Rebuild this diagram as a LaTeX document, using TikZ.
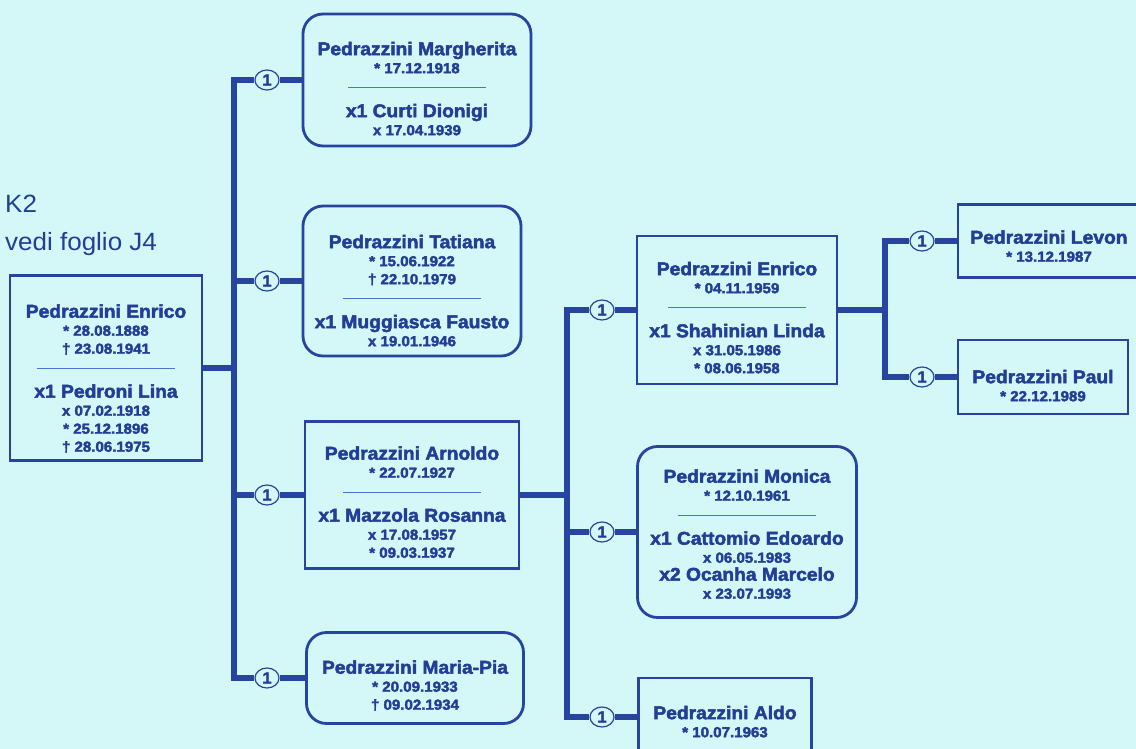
\documentclass[tikz,border=0pt]{standalone}
\usepackage{fontspec}
\setmainfont{Liberation Sans}[FakeStretch=1.04, BoldFeatures={FakeBold=2.5}]
\usetikzlibrary{shapes.geometric}
\definecolor{bgcol}{RGB}{212,248,248}
\definecolor{linecol}{RGB}{38,68,160}
\definecolor{txtcol}{RGB}{34,62,150}
\definecolor{sepcol}{RGB}{72,118,205}
\newcommand{\pname}[1]{{\fontsize{18.5}{18}\selectfont #1}}
\newcommand{\sepline}{\textcolor{sepcol}{\rule[3pt]{138pt}{1.2pt}}}
\begin{document}
\begin{tikzpicture}[x=1pt, y=-1pt,
    person/.style={draw=linecol, line width=2.8pt, fill=bgcol, inner sep=0pt},
    roundperson/.style={person, rounded corners=20pt},
    info/.style={anchor=north, align=center, inner sep=0pt, text=txtcol,
      font=\fontsize{14.5}{18}\selectfont\bfseries},
    branch/.style={draw=linecol, line width=5.5pt},
    gen/.style={ellipse, draw=linecol, line width=1.2pt, fill=bgcol,
      minimum width=24pt, minimum height=20pt, inner sep=0pt, text=txtcol,
      font=\fontsize{16}{16}\selectfont\bfseries}]
  \useasboundingbox (0,0) rectangle (1136,749);
  \clip (0,0) rectangle (1136,749);
  \fill[bgcol] (0,0) rectangle (1136,749);

  % sheet reference
  \node[anchor=base west, inner sep=0pt, text=txtcol, font=\fontsize{25}{28}\selectfont] (k2) at (5,213) {K2};
  \node[anchor=base west, inner sep=0pt, text=txtcol, font=\fontsize{25}{28}\selectfont] (sheet) at (5,250) {vedi foglio J4};

  % first generation
  \node[person, minimum width=192pt, minimum height=185pt] (enrico) at (106,368) {};
  \node[info] (enrico-t) at ([yshift=-30pt]enrico.north)
    {\pname{Pedrazzini Enrico}\\{*} 28.08.1888\\† 23.08.1941\\\sepline\\[8pt]
     \pname{x1 Pedroni Lina}\\x 07.02.1918\\{*} 25.12.1896\\† 28.06.1975};

  % children
  \node[roundperson, minimum width=228pt, minimum height=132pt] (marg) at (417,80) {};
  \node[info] (marg-t) at ([yshift=-29pt]marg.north)
    {\pname{Pedrazzini Margherita}\\{*} 17.12.1918\\\sepline\\[8pt]
     \pname{x1 Curti Dionigi}\\x 17.04.1939};
  \node[roundperson, minimum width=218pt, minimum height=150pt] (tatiana) at (412,281) {};
  \node[info] (tatiana-t) at ([yshift=-30pt]tatiana.north)
    {\pname{Pedrazzini Tatiana}\\{*} 15.06.1922\\† 22.10.1979\\\sepline\\[8pt]
     \pname{x1 Muggiasca Fausto}\\x 19.01.1946};
  \node[person, minimum width=214pt, minimum height=147pt] (arnoldo) at (412,495) {};
  \node[info] (arnoldo-t) at ([yshift=-26pt]arnoldo.north)
    {\pname{Pedrazzini Arnoldo}\\{*} 22.07.1927\\\sepline\\[8pt]
     \pname{x1 Mazzola Rosanna}\\x 17.08.1957\\{*} 09.03.1937};
  \node[roundperson, minimum width=217pt, minimum height=91pt] (mariapia) at (415,678) {};
  \node[info] (mariapia-t) at ([yshift=-29pt]mariapia.north)
    {\pname{Pedrazzini Maria-Pia}\\{*} 20.09.1933\\† 09.02.1934};

  % grandchildren
  \node[person, minimum width=200pt, minimum height=148pt] (enrico2) at (737,310) {};
  \node[info] (enrico2-t) at ([yshift=-27pt]enrico2.north)
    {\pname{Pedrazzini Enrico}\\{*} 04.11.1959\\\sepline\\[8pt]
     \pname{x1 Shahinian Linda}\\x 31.05.1986\\{*} 08.06.1958};
  \node[roundperson, minimum width=219pt, minimum height=171pt] (monica) at (747,532) {};
  \node[info] (monica-t) at ([yshift=-24pt]monica.north)
    {\pname{Pedrazzini Monica}\\{*} 12.10.1961\\\sepline\\[8pt]
     \pname{x1 Cattomio Edoardo}\\x 06.05.1983\\\pname{x2 Ocanha Marcelo}\\x 23.07.1993};
  \node[person, minimum width=173pt, minimum height=78pt] (aldo) at (725,717) {};
  \node[info] (aldo-t) at ([yshift=-29pt]aldo.north)
    {\pname{Pedrazzini Aldo}\\{*} 10.07.1963};

  % great-grandchildren
  \node[person, minimum width=182pt, minimum height=73pt] (levon) at (1049,241) {};
  \node[info] (levon-t) at ([yshift=-27pt]levon.north)
    {\pname{Pedrazzini Levon}\\{*} 13.12.1987};
  \node[person, minimum width=170pt, minimum height=74pt] (paul) at (1043,377) {};
  \node[info] (paul-t) at ([yshift=-31pt]paul.north)
    {\pname{Pedrazzini Paul}\\{*} 22.12.1989};

  % marriage markers
  \node[gen] (g-marg) at (267,80) {1};
  \node[gen] (g-tatiana) at (267,281) {1};
  \node[gen] (g-arnoldo) at (267,495) {1};
  \node[gen] (g-mariapia) at (267,678) {1};
  \node[gen] (g-enrico2) at (602,310) {1};
  \node[gen] (g-monica) at (602,532) {1};
  \node[gen] (g-aldo) at (602,717) {1};
  \node[gen] (g-levon) at (922,241) {1};
  \node[gen] (g-paul) at (922,377) {1};

  \coordinate (fork1) at (234,368);
  \coordinate (fork2) at (567,495);
  \coordinate (fork3) at (885,310);

  \draw[branch] (enrico.east) -- (fork1);
  \draw[branch] (fork1) |- (g-marg.west);
  \draw[branch] (fork1) |- (g-tatiana.west);
  \draw[branch] (fork1) |- (g-arnoldo.west);
  \draw[branch] (fork1) |- (g-mariapia.west);
  \draw[branch] (g-marg.east) -- (marg.west);
  \draw[branch] (g-tatiana.east) -- (tatiana.west);
  \draw[branch] (g-arnoldo.east) -- (arnoldo.west);
  \draw[branch] (g-mariapia.east) -- (mariapia.west);

  \draw[branch] (arnoldo.east) -- (fork2);
  \draw[branch] (fork2) |- (g-enrico2.west);
  \draw[branch] (fork2) |- (g-monica.west);
  \draw[branch] (fork2) |- (g-aldo.west);
  \draw[branch] (g-enrico2.east) -- (enrico2.west);
  \draw[branch] (g-monica.east) -- (monica.west);
  \draw[branch] (g-aldo.east) -- (aldo.west);

  \draw[branch] (enrico2.east) -- (fork3);
  \draw[branch] (fork3) |- (g-levon.west);
  \draw[branch] (fork3) |- (g-paul.west);
  \draw[branch] (g-levon.east) -- (levon.west);
  \draw[branch] (g-paul.east) -- (paul.west);
\end{tikzpicture}
\end{document}
